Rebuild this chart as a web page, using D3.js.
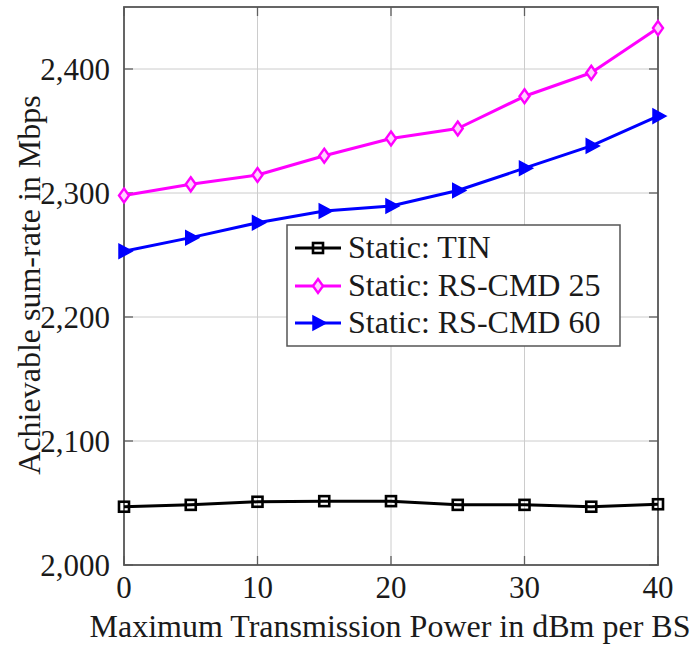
<!DOCTYPE html>
<html>
<head>
<meta charset="utf-8">
<script src="https://cdn.jsdelivr.net/npm/d3@7"></script>
</head>
<body style="margin:0; background:#fff">
<svg id="plotsvg" width="699" height="647"></svg>
<script>
// x values: max transmission power (dBm per BS)
const powers = [0, 5, 10, 15, 20, 25, 30, 35, 40];
const xTicks = [0, 10, 20, 30, 40];
const yTicks = [2000, 2100, 2200, 2300, 2400];

const seriesNames = ['Static: TIN', 'Static: RS-CMD 25', 'Static: RS-CMD 60'];
const tinRates = [2047, 2048.5, 2051, 2051.5, 2051.5, 2048.5, 2048.5, 2047, 2049];
const rs25Rates = [2298, 2307, 2314.5, 2330, 2344, 2352, 2378, 2397, 2433];
const rs60Rates = [2253, 2264, 2276, 2285.5, 2289.5, 2302, 2320, 2338, 2362];

const xLabel = 'Maximum Transmission Power in dBm per BS';
const yLabel = 'Achievable sum-rate in Mbps';

const svg = d3.select('#plotsvg');

const plot = {left: 124, right: 658, top: 7, bottom: 565};
const x = d3.scaleLinear().domain([0, 40]).range([plot.left, plot.right]);
const y = d3.scaleLinear().domain([2000, 2450]).range([plot.bottom, plot.top]);

const series = [
    {name: seriesNames[0], values: tinRates, color: '#000000', mark: 'square'},
    {name: seriesNames[1], values: rs25Rates, color: '#ff00ff', mark: 'diamond'},
    {name: seriesNames[2], values: rs60Rates, color: '#0000ff', mark: 'triangle'}
];

function serif(size) {
    return function (sel) {
        sel.style('font-family', "'Liberation Serif'")
            .style('font-size', size + 'px')
            .style('fill', '#1a1a1a');
    };
}

// grid
svg.selectAll('line.vg')
    .data(xTicks.slice(1, -1)).enter().append('line')
    .attr('class', 'vg')
    .attr('x1', d => x(d)).attr('x2', d => x(d))
    .attr('y1', plot.top).attr('y2', plot.bottom)
    .attr('stroke', '#cccccc').attr('stroke-width', 1);
svg.selectAll('line.hg')
    .data(yTicks.slice(1)).enter().append('line')
    .attr('class', 'hg')
    .attr('x1', plot.left).attr('x2', plot.right)
    .attr('y1', d => y(d)).attr('y2', d => y(d))
    .attr('stroke', '#cccccc').attr('stroke-width', 1);

// inward ticks on all four sides
const tickLen = 9;
const marks = svg.append('g').attr('stroke', '#606060').attr('stroke-width', 1.3);
yTicks.forEach(function (t) {
    marks.append('line').attr('x1', plot.left).attr('x2', plot.left + tickLen)
        .attr('y1', y(t)).attr('y2', y(t));
    marks.append('line').attr('x1', plot.right).attr('x2', plot.right - tickLen)
        .attr('y1', y(t)).attr('y2', y(t));
});
xTicks.forEach(function (t) {
    marks.append('line').attr('x1', x(t)).attr('x2', x(t))
        .attr('y1', plot.bottom).attr('y2', plot.bottom - tickLen);
    marks.append('line').attr('x1', x(t)).attr('x2', x(t))
        .attr('y1', plot.top).attr('y2', plot.top + tickLen);
});

svg.append('rect')
    .attr('x', plot.left).attr('y', plot.top)
    .attr('width', plot.right - plot.left).attr('height', plot.bottom - plot.top)
    .attr('fill', 'none').attr('stroke', '#555555').attr('stroke-width', 1.8);

// tick labels
const fmt = d3.format(',');
svg.selectAll('text.yl')
    .data(yTicks).enter().append('text')
    .attr('class', 'yl')
    .attr('x', 110).attr('y', d => y(d) + 10.5)
    .attr('text-anchor', 'end')
    .call(serif(31))
    .text(d => fmt(d));
svg.selectAll('text.xl')
    .data(xTicks).enter().append('text')
    .attr('class', 'xl')
    .attr('x', d => x(d)).attr('y', 598)
    .attr('text-anchor', 'middle')
    .call(serif(31))
    .text(d => d);

// axis titles
svg.append('text')
    .attr('x', 390).attr('y', 637)
    .attr('text-anchor', 'middle')
    .call(serif(32))
    .text(xLabel);
svg.append('text')
    .attr('transform', 'translate(40,285) rotate(-90)')
    .attr('text-anchor', 'middle')
    .call(serif(32))
    .text(yLabel);

function drawMark(g, kind, color) {
    if (kind === 'square') {
        g.append('rect')
            .attr('x', -5).attr('y', -5).attr('width', 10).attr('height', 10)
            .attr('fill', 'none').attr('stroke', color).attr('stroke-width', 2.6);
    } else if (kind === 'diamond') {
        g.append('path')
            .attr('d', 'M0 -7 L5 0 L0 7 L-5 0 Z')
            .attr('fill', '#ffd0ff').attr('stroke', color).attr('stroke-width', 2.4);
    } else {
        g.append('path')
            .attr('d', 'M8 0 L-5 -7 L-5 7 Z')
            .attr('fill', color).attr('stroke', color).attr('stroke-width', 1.5);
    }
}

const line = d3.line()
    .x(function (d, i) { return x(powers[i]); })
    .y(function (d) { return y(d); });

series.forEach(function (s) {
    svg.append('path')
        .attr('d', line(s.values))
        .attr('fill', 'none').attr('stroke', s.color)
        .attr('stroke-width', 3).attr('stroke-linejoin', 'round');
    svg.selectAll(null)
        .data(s.values).enter().append('g')
        .attr('transform', function (d, i) {
            return 'translate(' + x(powers[i]) + ',' + y(d) + ')';
        })
        .each(function () { drawMark(d3.select(this), s.mark, s.color); });
});

// legend
const legend = svg.append('g');
legend.append('rect')
    .attr('x', 287).attr('y', 225).attr('width', 333).attr('height', 121)
    .attr('fill', '#ffffff').attr('stroke', '#555555').attr('stroke-width', 1.5);
const rowY = [248, 286, 323];
series.forEach(function (s, i) {
    legend.append('line')
        .attr('x1', 295).attr('x2', 341).attr('y1', rowY[i]).attr('y2', rowY[i])
        .attr('stroke', s.color).attr('stroke-width', 3);
    drawMark(legend.append('g').attr('transform', 'translate(318,' + rowY[i] + ')'), s.mark, s.color);
    legend.append('text')
        .attr('x', 348).attr('y', rowY[i] + 10)
        .call(serif(32))
        .text(s.name);
});
</script>
</body>
</html>
